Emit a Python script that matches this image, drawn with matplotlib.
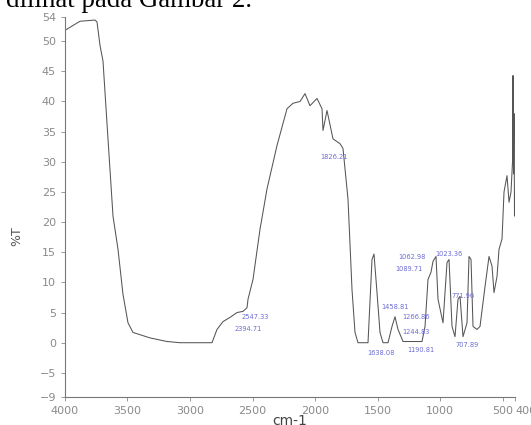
from matplotlib import pyplot as plt
import numpy as np

# spectrum (wavenumber cm-1, %T)
wavenumber = [4000, 3880, 3760, 3744, 3720, 3696, 3656, 3616, 3576, 3536,
              3496, 3456, 3320, 3184, 3080, 2824, 2784, 2736, 2680, 2624,
              2576, 2544, 2536, 2496, 2440, 2384, 2304, 2224, 2176, 2120,
              2080, 2040, 1984, 1944, 1936, 1904, 1856, 1800, 1776, 1736,
              1704, 1680, 1656, 1576, 1544, 1528, 1504, 1480, 1456, 1416,
              1384, 1360, 1336, 1296, 1144, 1120, 1096, 1072, 1056, 1032,
              1016, 976, 944, 928, 904, 880, 856, 840, 816, 784,
              768, 752, 736, 704, 680, 640, 608, 584, 568, 544,
              528, 504, 488, 464, 448, 432, 420, 416, 412, 408,
              404, 400]
transmittance = [51.8, 53.3, 53.5, 53.2, 49.3, 46.7, 33.8, 21.0, 15.5, 8.0,
                 3.3, 1.7, 0.8, 0.2, 0.0, 0.0, 2.2, 3.5, 4.2, 5.0,
                 5.2, 5.8, 7.2, 10.5, 18.8, 25.5, 32.7, 38.8, 39.7, 40.0,
                 41.3, 39.3, 40.5, 38.8, 35.2, 38.5, 33.8, 33.0, 32.2, 23.8,
                 8.8, 1.7, 0.0, 0.0, 13.8, 14.7, 8.3, 1.7, 0.0, 0.0,
                 2.7, 4.3, 2.2, 0.2, 0.2, 2.7, 10.5, 11.7, 13.5, 14.3,
                 7.2, 3.3, 13.3, 13.8, 2.7, 1.0, 7.2, 7.7, 1.0, 3.3,
                 14.3, 13.8, 2.7, 2.2, 2.7, 9.3, 14.3, 12.7, 8.3, 11.0,
                 15.5, 17.2, 25.0, 27.7, 23.3, 25.0, 30.0, 44.3, 28.0, 38.0,
                 21.0, 25.0]

# peak labels: text, anchor wavenumber, anchor %T
peak_text = ["2547.33", "2394.71", "1826.21", "1062.98", "1089.71", "1023.36",
             "1458.81", "1266.86", "1244.83", "1638.08", "1190.81", "771.96",
             "707.89"]
peak_wn = [2584, 2640, 1736, 1336, 1360, 1040, 1472, 1304, 1304, 1584, 1264, 912, 880]
peak_t = [4.2, 2.3, 30.8, 14.2, 12.2, 14.7, 6.0, 4.2, 1.7, -1.7, -1.2, 7.7, -0.3]

xticks = [4000, 3500, 3000, 2500, 2000, 1500, 1000, 500, 400]
yticks = [-9, -5, 0, 5, 10, 15, 20, 25, 30, 35, 40, 45, 50, 54]

fig = plt.figure(figsize=(5.31, 4.25), dpi=100)
ax = fig.add_axes([0.1224, 0.0659, 0.8475, 0.894])

ax.plot(wavenumber, transmittance, color='#555555', linewidth=0.75)

for s, w, t in zip(peak_text, peak_wn, peak_t):
    ha = 'right' if s == "1826.21" else 'left'
    ax.text(w, t, s, fontsize=4.8, color='#6b6bd6', ha=ha, va='center')

ax.set_xlim(4000, 400)
ax.set_ylim(-9, 54)
ax.set_xticks(xticks)
ax.set_yticks(yticks)
ax.tick_params(labelsize=8, colors='#8a8a8a', length=3, width=0.6)
for lab in ax.get_xticklabels():
    if lab.get_text() == '400':
        lab.set_horizontalalignment('left')

ax.spines['right'].set_visible(False)
ax.spines['top'].set_visible(False)
ax.spines['left'].set_color('#777777')
ax.spines['bottom'].set_color('#777777')

fig.text(17 / 531, 1 - 236 / 425, '%T', rotation=90, fontsize=9,
         color='#555555', ha='center', va='center')
fig.text(290 / 531, 1 - 414 / 425, 'cm-1', fontsize=10, color='#444444',
         ha='center', va='top')

# bit of the document text above the chart, cut by the top edge
fig.text(6 / 531, 1 - 7 / 425, 'dilihat pada Gambar 2.', fontsize=19.4,
         family='Liberation Serif', color='black', ha='left', va='baseline')

plt.savefig('out.png', dpi=100)
